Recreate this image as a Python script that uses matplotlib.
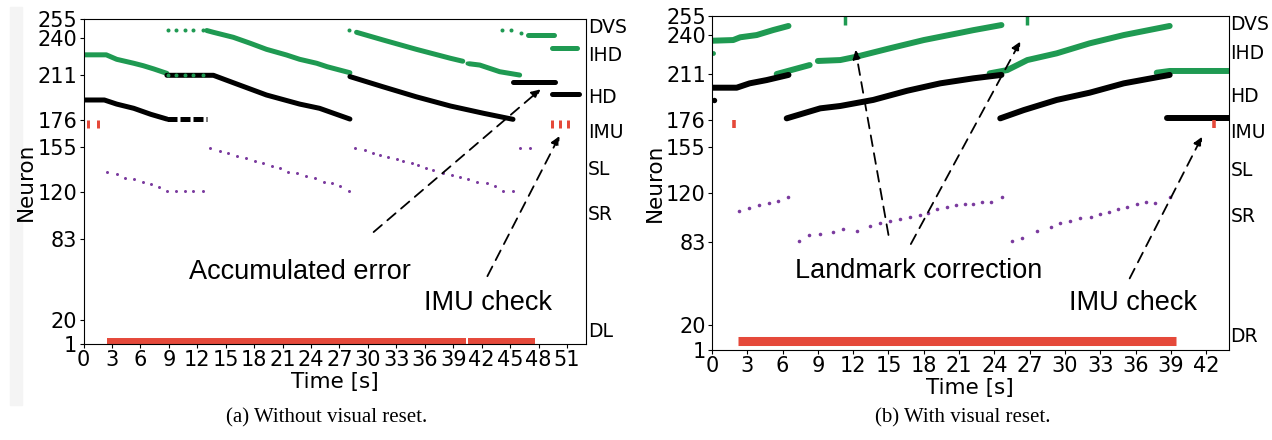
import matplotlib
matplotlib.use('Agg')
import matplotlib.pyplot as plt
from matplotlib.patches import Rectangle

GREEN = '#1f9a52'
RED = '#e5493a'
PURPLE = '#7a3a9e'

yticks = [1, 20, 83, 120, 155, 176, 211, 240, 255]
names_a = ['DVS', 'IHD', 'HD', 'IMU', 'SL', 'SR', 'DL']
names_b = ['DVS', 'IHD', 'HD', 'IMU', 'SL', 'SR', 'DR']
name_pos = [248, 226.5, 193.5, 166, 137.5, 102.5, 11]

# ---------------- (a) without visual reset ----------------
a_green_lines = [
    ([0.15, 2.4, 3.5, 5.3, 6.3, 7.4, 8.8], [227, 227, 223.5, 220.4, 218.5, 216, 212.5]),
    ([13.0, 13.7, 15.8, 17.6, 19.3, 21.4, 22.8, 24.6, 25.7, 28.1],
     [246, 244.6, 240.7, 236, 231.3, 226.9, 223.5, 220.4, 217.7, 213]),
    ([28.8, 31.6, 35.1, 38.7, 40.0], [244.6, 238.6, 231.3, 224.3, 222]),
    ([40.7, 41.8, 43.9, 46.0], [220, 219, 213.8, 211.2]),
    ([46.9, 49.6], [242.5, 242.5]),
    ([49.4, 52.0], [232, 232]),
]
a_green_dots_t = [8.9, 9.8, 10.7, 11.6, 12.6, 8.9, 9.8, 10.7, 11.6, 12.6, 28.0, 40.4, 44.1, 45.1, 46.1]
a_green_dots_v = [246.4, 246.4, 246.4, 246.4, 246.4, 211, 211, 211, 211, 211, 246.4, 221, 246.4, 246.4, 244]
a_black_lines = [
    ([0.15, 2.2, 3.5, 5.3, 7.1, 8.8], [191.7, 191.7, 188.5, 185.2, 180.5, 176.8]),
    ([8.8, 13.7, 15.8, 19.3, 22.8, 24.9, 28.1], [211, 211, 205.2, 195.6, 188.5, 185.2, 176.8]),
    ([28.1, 31.6, 35.1, 38.7, 42.2, 45.3], [210, 202, 194.2, 187, 181.3, 176.6]),
    ([45.3, 49.7], [206, 206]),
    ([49.4, 52.3], [196, 196]),
]
a_black_dashed = ([8.8, 13.0], [176.5, 176.5])
a_imu_t = [0.5, 1.5, 49.4, 50.3, 51.1]
a_sl_t = [2.45, 3.5, 4.38, 5.33, 6.24, 7.09, 8.0, 8.84, 9.76, 10.7, 11.58, 12.57,
          13.34, 14.4, 15.2, 16.16, 17.14, 18.09, 18.97, 19.85, 20.73, 21.6, 22.49, 23.47,
          24.42, 25.4, 26.2, 27.1, 28.0,
          28.64, 29.69, 30.5, 31.28, 32.15, 33.04, 33.74, 34.62, 35.32, 36.13, 36.9,
          37.89, 38.84, 39.72, 40.59, 41.47, 42.53, 43.41, 44.28, 45.27, 46.05, 47.1]
a_sl_v = [135.1, 133.6, 130.9, 129.6, 127.8, 126.2, 123.9, 120.8, 120.8, 120.8, 120.8, 120.8,
          154.4, 152.1, 150, 147.9, 146.1, 143.9, 142.2, 140.3, 138.3, 135.6, 134.4, 132.5,
          130.5, 127.8, 126.5, 124.7, 120.8,
          154.4, 152.6, 150, 148.7, 147.3, 145.3, 144, 142.2, 140.8, 138.7, 136.9,
          134.8, 133, 131.7, 129.9, 127.8, 126.5, 124.7, 120.8, 120.8, 153.9, 153.9]
a_dl_start = [2.5, 40.6]
a_dl_end = [40.3, 47.6]

# ---------------- (b) with visual reset ----------------
b_green_lines = [
    ([0.06, 1.8, 2.4, 3.8, 5.2, 6.5], [236, 236.5, 238.6, 240.3, 244.1, 247.2]),
    ([5.5, 8.3], [210.7, 217.5]),
    ([9.0, 10.9, 12.3, 15.1, 18.0, 21.1, 22.2, 24.6], [220.6, 221.3, 223.9, 230.2, 236.5, 242, 244, 247.9]),
    ([23.6, 25.1, 26.8, 29.3, 32.1, 35.0, 38.9], [211.2, 213.7, 221.3, 226.4, 234, 240.3, 247.2]),
    ([37.8, 38.9, 43.9], [211.7, 213, 213]),
]
b_green_dots_t = [0.06]
b_green_dots_v = [226.9]
b_dvs_t = [11.3, 26.8]
b_black_lines = [
    ([0.06, 2.1, 3.2, 4.65, 6.5], [200.3, 200.3, 203.6, 206.1, 210]),
    ([6.35, 9.2, 10.9, 13.7, 16.6, 19.4, 22.2, 24.6], [177, 184.6, 186.4, 191, 198, 203.6, 207.4, 210]),
    ([24.5, 26.5, 29.3, 32.1, 35.0, 38.9], [177, 183.3, 191, 196.5, 203.6, 210]),
    ([38.7, 43.9], [177, 177]),
]
b_black_dots_t = [0.17]
b_black_dots_v = [191]
b_imu_t = [1.87, 42.7]
b_sr_t = [2.27, 3.15, 4.0, 4.83, 5.62, 6.45,
          7.36, 8.27, 9.19, 10.26, 11.17, 12.33, 13.46, 14.31, 15.14, 15.96, 16.87,
          17.64, 18.33, 19.16, 19.95, 20.74, 21.53, 22.2, 22.97, 23.73, 24.64,
          25.49, 26.32, 27.63, 28.78, 29.61, 30.43, 31.28, 32.2, 32.96, 33.72, 34.49,
          35.31, 36.1, 36.92, 37.69, 38.96]
b_sr_v = [106.8, 108.6, 110.9, 112.4, 114.4, 117,
          83.8, 88.4, 88.9, 90.9, 92.7, 91.6, 95.2, 97.2, 99.2, 100.5, 102.3,
          103.5, 104.8, 107.9, 109.4, 111.1, 111.7, 111.7, 113.4, 113.7, 117,
          83.8, 85.8, 91.6, 94.7, 97.2, 99.2, 101.0, 101.8, 104.3, 106.1, 107.9,
          109.4, 111.7, 113.2, 112.9, 117]
b_dr_start = [2.2]
b_dr_end = [39.4]


def draw_panel(ax, greens, gdots, blacks, bdots, imu_t, purp, bar, names, xmax, xticks, lw):
    for t, v in greens:
        ax.plot(t, v, color=GREEN, lw=lw, solid_capstyle='round')
    for t, v in blacks:
        ax.plot(t, v, color='black', lw=lw, solid_capstyle='round')
    ax.plot(gdots[0], gdots[1], 'o', color=GREEN, ms=lw * 0.8, mec='none')
    ax.plot(bdots[0], bdots[1], 'o', color='black', ms=lw * 0.9, mec='none')
    ax.vlines(imu_t, 170, 175.7, color=RED, lw=lw * 0.6)
    ax.plot(purp[0], purp[1], 'o', color=PURPLE, ms=lw * 0.6, mec='none', ls='none')
    ax.hlines([bar[2]] * len(bar[0]), bar[0], bar[1], color=RED, lw=bar[3])
    ax.set_xlim(0, xmax)
    ax.set_ylim(1, 255)
    ax.set_yticks(yticks)
    ax.set_xticks(xticks)
    ax.tick_params(labelsize=15, length=3, pad=1.5)
    ax.set_xlabel('Time [s]', fontsize=15.5, labelpad=1)
    ax.set_ylabel('Neuron', fontsize=15.5, labelpad=1)
    for name, y in zip(names, name_pos):
        ax.text(1.004, y, name, transform=ax.get_yaxis_transform(), fontsize=13.5,
                ha='left', va='center')


def arrow(ax, head, tail):
    ax.annotate('', xy=head, xytext=tail,
                arrowprops=dict(arrowstyle='-|>', color='black', lw=1.3,
                                linestyle=(0, (6, 4)), mutation_scale=13,
                                shrinkA=0, shrinkB=0))


fig = plt.figure(figsize=(12.72, 4.4), dpi=100)
fig.patches.append(Rectangle((10 / 1272, 35 / 440), 12 / 1272, 398 / 440,
                             transform=fig.transFigure, color='#f4f4f4', zorder=-5))

ax1 = fig.add_axes([83.5 / 1272, 96 / 440, 502.5 / 1272, 325 / 440])
draw_panel(ax1, a_green_lines, (a_green_dots_t, a_green_dots_v), a_black_lines,
           ([], []), a_imu_t, (a_sl_t, a_sl_v), (a_dl_start, a_dl_end, 3.4, 4.3),
           names_a, 53, range(0, 52, 3), 3.6)
ax1.plot(a_black_dashed[0], a_black_dashed[1], color='black', lw=3.6, ls=(0, (2, 0.6)))
ax1.text(22.8, 57, 'Accumulated error', fontsize=19.5, family='Liberation Sans',
         ha='center', va='center')
ax1.text(42.7, 33, 'IMU check', fontsize=19.5, family='Liberation Sans',
         ha='center', va='center')
arrow(ax1, (48.2, 200), (30.6, 88.5))
arrow(ax1, (50.2, 163.5), (42.6, 54))

ax2 = fig.add_axes([712 / 1272, 90 / 440, 516.5 / 1272, 334.3 / 440])
draw_panel(ax2, b_green_lines, (b_green_dots_t, b_green_dots_v), b_black_lines,
           (b_black_dots_t, b_black_dots_v), b_imu_t, (b_sr_t, b_sr_v),
           (b_dr_start, b_dr_end, 8, 6.5), names_b, 43.9, range(0, 43, 3), 4.3)
ax2.vlines(b_dvs_t, 248, 255, color=GREEN, lw=2.5)
ax2.text(17.6, 61, 'Landmark correction', fontsize=19.5, family='Liberation Sans',
         ha='center', va='center')
ax2.text(35.8, 36.7, 'IMU check', fontsize=19.5, family='Liberation Sans',
         ha='center', va='center')
arrow(ax2, (12.2, 229), (15.0, 88.4))
arrow(ax2, (26.2, 235.3), (16.9, 81.5))
arrow(ax2, (41.65, 163), (35.5, 55.4))

fig.text(327 / 1272, 1 - 418 / 440, '(a) Without visual reset.', fontsize=15,
         family='Liberation Serif', ha='center', va='center')
fig.text(963 / 1272, 1 - 418 / 440, '(b) With visual reset.', fontsize=15,
         family='Liberation Serif', ha='center', va='center')

fig.savefig('out.png', dpi=100)
